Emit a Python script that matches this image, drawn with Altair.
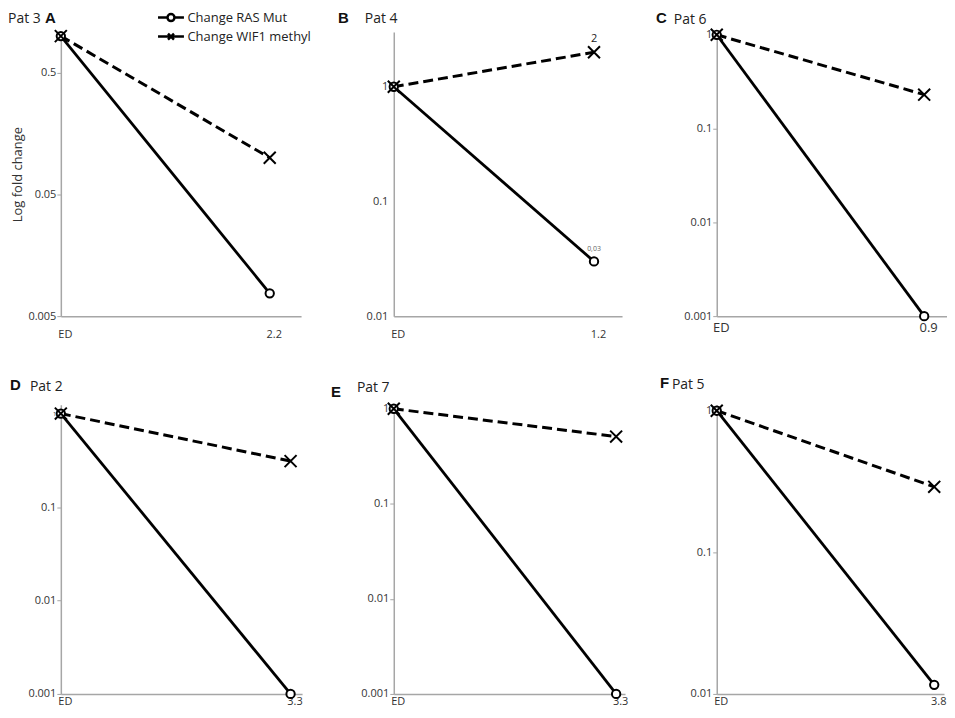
import altair as alt
import pandas as pd

# ---------------- data ----------------
panel_letters = ["A", "B", "C", "D", "E", "F"]
patients = ["Pat 3", "Pat 4", "Pat 6", "Pat 2", "Pat 7", "Pat 5"]
series_names = ["Change RAS Mut", "Change WIF1 methyl"]
x_start_label = "ED"
x_end_labels = ["2.2", "1.2", "0.9", "3.3", "3.3", "3.8"]
ras_start = [1, 1, 1, 1, 1, 1]
ras_end = [0.0077, 0.03, 0.001, 0.001, 0.001, 0.0116]
wif1_start = [1, 1, 1, 1, 1, 1]
wif1_end = [0.1, 2, 0.23, 0.31, 0.51, 0.29]
ras_notes = ["", "0,03", "", "", "", ""]
wif1_notes = ["", "2", "", "", "", ""]
y_ticks = [
    [0.005, 0.05, 0.5],
    [0.01, 0.1, 1],
    [0.001, 0.01, 0.1, 1],
    [0.001, 0.01, 0.1, 1],
    [0.001, 0.01, 0.1, 1],
    [0.01, 0.1, 1],
]
y_domains = [
    [0.005, 1.08],
    [0.01, 3.0],
    [0.001, 1.07],
    [0.001, 1.24],
    [0.001, 1.1],
    [0.01, 1.1],
]

# ---------------- layout / style ----------------
widths = [241, 229, 231, 242, 232, 228]
heights = [285, 285, 285, 290, 290, 290]
x_max = [1.15, 1.14, 1.11, 1.05, 1.04, 1.045]
tick_sizes = [4, 0, 4, 4, 4, 4]
y_label_pad = [1, 6, 1, 1, 1, 1]
x_label_pad = [12, 12, 5, 2, 2, 2]
x_label_size = [11, 11, 13, 11, 11, 11]
letter_dx = [-16, -56, -61, -51, -63, -57]
letter_dy = [-14, -14, -14, -20, -13, -22]
title_dx = [-53, -29, -43, -31, -37, -45]
title_dy = [-13, -13, -12, -18, -17, -20]

XPATH = "M-1,-1L1,1M-1,1L1,-1"
LEG_RAS = "M-2,0L-0.54,0M0.54,0L2,0M-0.54,0A0.54,0.54 0 1,0 0.54,0A0.54,0.54 0 1,0 -0.54,0Z"
LEG_WIF = "M-2,0L2,0M-0.46,-0.46L0.46,0.46M-0.46,0.46L0.46,-0.46"

LABEL_FONT = "Open Sans"
AX_COLOR = "#a6a6a6"
TXT = "#333333"


def panel(i):
    rows = [
        {"t": 0, "v": ras_start[i], "s": series_names[0], "note": ""},
        {"t": 1, "v": ras_end[i], "s": series_names[0], "note": ras_notes[i]},
        {"t": 0, "v": wif1_start[i], "s": series_names[1], "note": ""},
        {"t": 1, "v": wif1_end[i], "s": series_names[1], "note": wif1_notes[i]},
    ]
    df = pd.DataFrame(rows)
    end_label = x_end_labels[i]
    y_label_size = 11
    if i == 3:
        y_label_size = {"condition": {"test": "datum.value == 1", "value": 6}, "value": 11}
    yaxis_kwargs = dict(
        values=y_ticks[i], format="~g", grid=False, tickSize=tick_sizes[i],
        tickColor=AX_COLOR, domainColor=AX_COLOR, domainWidth=1.5,
        labelFont=LABEL_FONT, labelFontSize=y_label_size, labelColor=TXT,
        labelPadding=y_label_pad[i], labelOverlap=False, ticks=tick_sizes[i] > 0,
    )
    if i == 0:
        yaxis_kwargs.update(
            title="Log fold change", titleFont=LABEL_FONT, titleFontSize=13,
            titleFontWeight="normal", titleColor=TXT, titleX=-43.5,
            titleY=heights[i] / 2, titleBaseline="middle", titleAngle=270,
        )
    else:
        yaxis_kwargs.update(title=None)

    x = alt.X(
        "t:Q",
        scale=alt.Scale(domain=[0, x_max[i]], nice=False, zero=False),
        axis=alt.Axis(
            values=[0, 1],
            labelExpr=f"datum.value == 0 ? '{x_start_label}' : '{end_label}'",
            ticks=False, grid=False, title=None, labelFlush=False, labelOffset=4,
            labelPadding=x_label_pad[i], labelFontSize=x_label_size[i],
            labelFont=LABEL_FONT, labelColor=TXT, domainColor=AX_COLOR,
            domainWidth=1.5,
        ),
    )
    y = alt.Y(
        "v:Q",
        scale=alt.Scale(type="log", domain=y_domains[i], nice=False),
        axis=alt.Axis(**yaxis_kwargs),
    )
    base = alt.Chart(df).encode(x=x, y=y)
    ras = base.transform_filter(alt.datum.s == series_names[0])
    wif = base.transform_filter(alt.datum.s == series_names[1])

    layers = [
        wif.mark_line(color="black", strokeWidth=3, strokeDash=[10, 5]),
        ras.mark_line(color="black", strokeWidth=2.8),
        ras.mark_point(shape="circle", filled=True, fill="white", stroke="black",
                       strokeWidth=2, size=70, opacity=1),
        wif.mark_point(shape=XPATH, filled=False, stroke="black", strokeWidth=2,
                       size=144, opacity=1),
        ras.transform_filter(alt.datum.note != "").mark_text(
            fontSize=7, dy=-12, color="#666666", font=LABEL_FONT).encode(text="note:N"),
        wif.transform_filter(alt.datum.note != "").mark_text(
            fontSize=11, dy=-13, color="#222222", font=LABEL_FONT).encode(text="note:N"),
    ]

    lab = pd.DataFrame({"letter": [panel_letters[i]], "pat": [patients[i]]})
    layers.append(
        alt.Chart(lab).mark_text(align="left", baseline="middle", font="Liberation Sans",
                                 fontWeight="bold", fontSize=15, color="#111111")
        .encode(x=alt.value(letter_dx[i]), y=alt.value(letter_dy[i]), text="letter:N")
    )
    layers.append(
        alt.Chart(lab).mark_text(align="left", baseline="middle", font=LABEL_FONT,
                                 fontSize=14, color="#222222")
        .encode(x=alt.value(title_dx[i]), y=alt.value(title_dy[i]), text="pat:N")
    )

    if i == 0:
        legend_layer = (
            alt.Chart(df).transform_filter("false")
            .mark_point(filled=False, color="black", strokeWidth=2.5, size=169, opacity=1)
            .encode(
                shape=alt.Shape(
                    "s:N",
                    scale=alt.Scale(domain=series_names, range=[LEG_RAS, LEG_WIF]),
                    legend=alt.Legend(
                        orient="none", legendX=102.5, legendY=-22.5, title=None,
                        labelFont=LABEL_FONT, labelFontSize=13, labelColor="#222222",
                        symbolSize=169, symbolStrokeWidth=2.5, symbolStrokeColor="black",
                        symbolFillColor="transparent", labelOffset=8.5, rowPadding=2,
                        padding=0, symbolOffset=0,
                    ),
                )
            )
        )
        layers.append(legend_layer)

    return alt.layer(*layers).properties(width=widths[i], height=heights[i])


chart = (
    alt.concat(
        *[panel(i) for i in range(6)],
        columns=3, spacing={"row": 89, "column": 92}, bounds="flush", align="none",
    )
    .properties(padding={"left": 0, "top": 0, "right": 0, "bottom": 0})
    .configure_view(stroke=None)
)

chart.save("out.html", embed_options={"renderer": "svg", "actions": False})
